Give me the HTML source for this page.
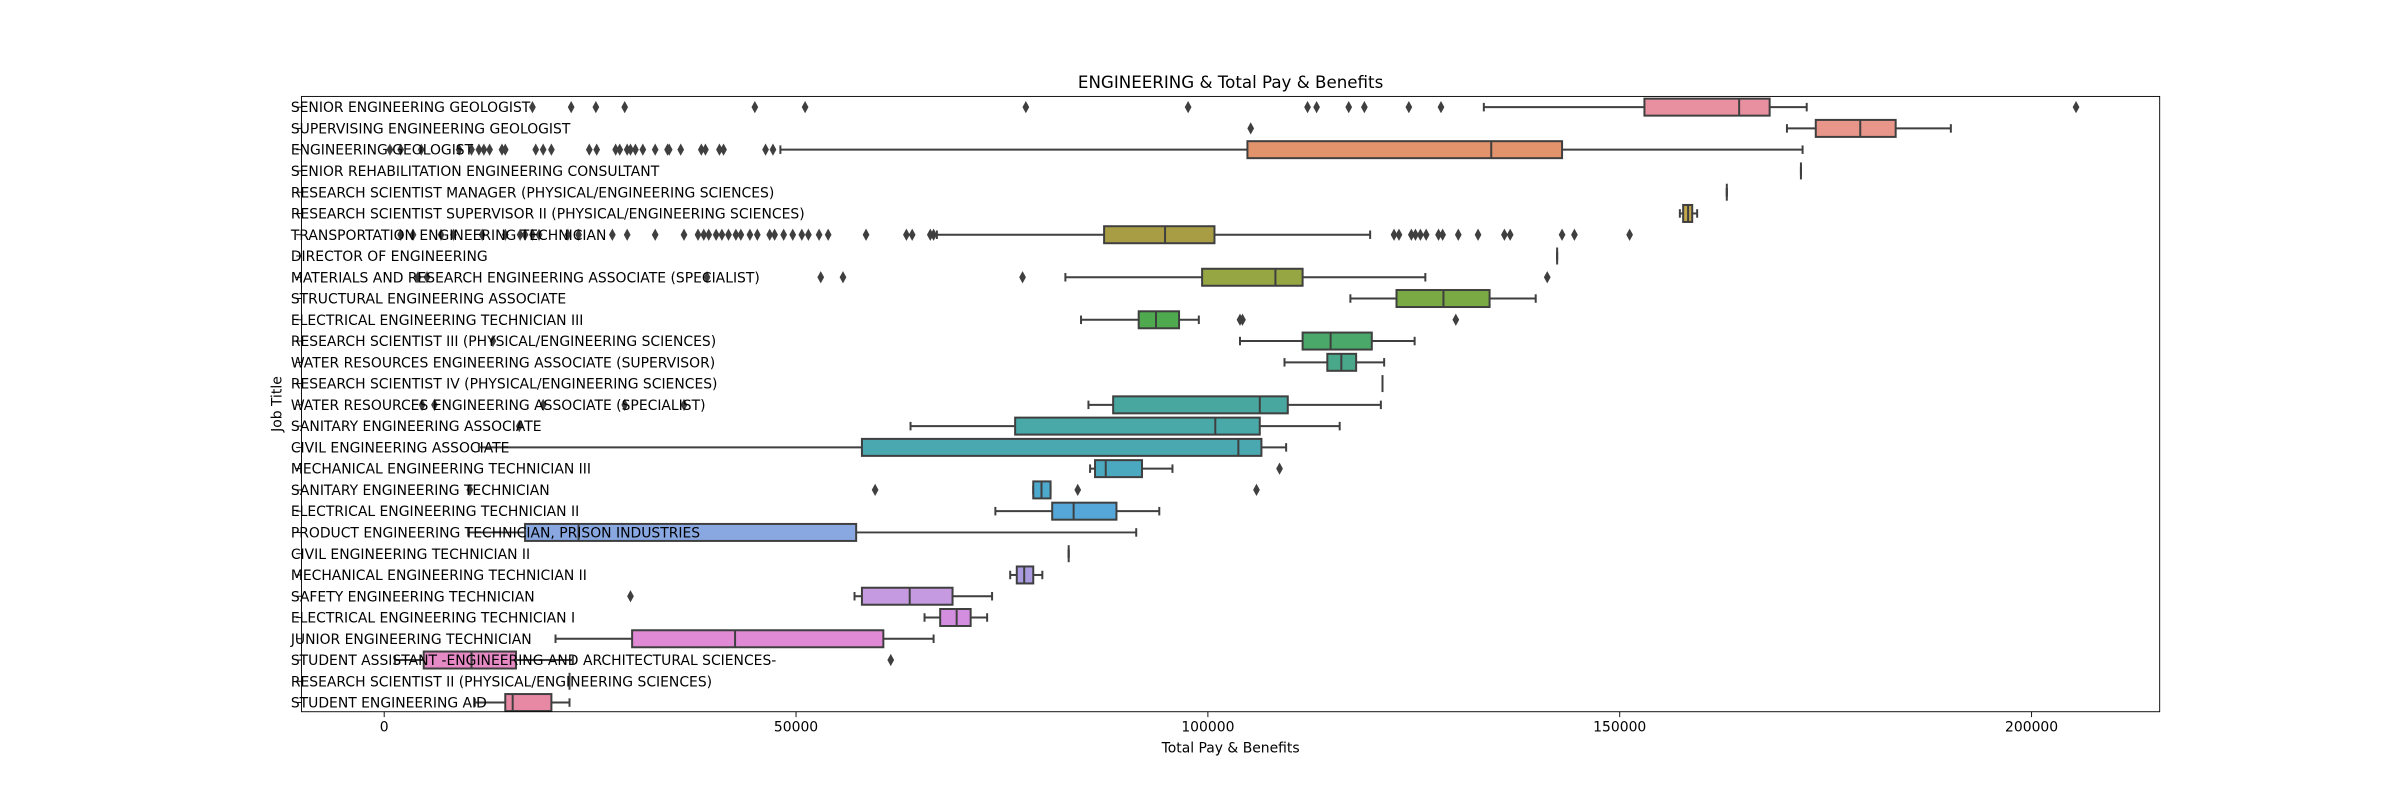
<!DOCTYPE html>
<html><head><meta charset="utf-8"><style>
html,body{margin:0;padding:0;background:#fff;}
svg{display:block;font-family:"DejaVu Sans","Liberation Sans",sans-serif;}
</style></head><body>
<svg id="chart" width="2400" height="800" viewBox="0 0 1568 522.67" xmlns="http://www.w3.org/2000/svg">
<rect x="0" y="0" width="1568" height="522.67" fill="#fff"/>
<text x="804" y="57.5" font-size="10.9" text-anchor="middle" fill="#000">ENGINEERING &amp; Total Pay &amp; Benefits</text>
<g id="plot"></g>
<rect x="197" y="63" width="1214" height="402" fill="none" stroke="#000" stroke-width="0.6"/>
<text x="804" y="491.5" font-size="9.1" text-anchor="middle" fill="#000">Total Pay &amp; Benefits</text>
<text transform="translate(184,264) rotate(-90)" font-size="9.1" text-anchor="middle" fill="#000">Job Title</text>
</svg>
<script>
const categories=["SENIOR ENGINEERING GEOLOGIST","SUPERVISING ENGINEERING GEOLOGIST","ENGINEERING GEOLOGIST","SENIOR REHABILITATION ENGINEERING CONSULTANT","RESEARCH SCIENTIST MANAGER (PHYSICAL/ENGINEERING SCIENCES)","RESEARCH SCIENTIST SUPERVISOR II (PHYSICAL/ENGINEERING SCIENCES)","TRANSPORTATION ENGINEERING TECHNICIAN","DIRECTOR OF ENGINEERING","MATERIALS AND RESEARCH ENGINEERING ASSOCIATE (SPECIALIST)","STRUCTURAL ENGINEERING ASSOCIATE","ELECTRICAL ENGINEERING TECHNICIAN III","RESEARCH SCIENTIST III (PHYSICAL/ENGINEERING SCIENCES)","WATER RESOURCES ENGINEERING ASSOCIATE (SUPERVISOR)","RESEARCH SCIENTIST IV (PHYSICAL/ENGINEERING SCIENCES)","WATER RESOURCES ENGINEERING ASSOCIATE (SPECIALIST)","SANITARY ENGINEERING ASSOCIATE","CIVIL ENGINEERING ASSOCIATE","MECHANICAL ENGINEERING TECHNICIAN III","SANITARY ENGINEERING TECHNICIAN","ELECTRICAL ENGINEERING TECHNICIAN II","PRODUCT ENGINEERING TECHNICIAN, PRISON INDUSTRIES","CIVIL ENGINEERING TECHNICIAN II","MECHANICAL ENGINEERING TECHNICIAN II","SAFETY ENGINEERING TECHNICIAN","ELECTRICAL ENGINEERING TECHNICIAN I","JUNIOR ENGINEERING TECHNICIAN","STUDENT ASSISTANT -ENGINEERING AND ARCHITECTURAL SCIENCES-","RESEARCH SCIENTIST II (PHYSICAL/ENGINEERING SCIENCES)","STUDENT ENGINEERING AID"];
const whiskerLow=[133500,170300,48100,172000,163000,157300,67100,142400,82700,117300,84600,103900,109300,121200,85500,63900,11500,85700,78800,74200,10200,83100,76000,57100,65600,20800,1300,22500,11000];
const q1=[153000,173800,104800,172000,163000,157700,87400,142400,99300,122900,91600,111500,114500,121200,88500,76600,58000,86300,78800,81100,17100,83100,76800,58000,67500,30100,4800,22500,14700];
const medians=[164500,179200,134400,172000,163000,158300,94800,142400,108200,128600,93700,114900,116200,121200,106300,100900,103700,87600,79800,83700,23600,83100,77700,63800,69500,42600,10600,22500,15600];
const q3=[168200,183500,143000,172000,163000,158800,100800,142400,111500,134200,96500,119900,118000,121200,109700,106300,106500,92000,80900,88900,57300,83100,78800,69000,71200,60600,16000,22500,20300];
const whiskerHigh=[172700,190200,172200,172000,163000,159400,119700,142400,126400,139800,98900,125100,121400,121200,121000,116000,109500,95700,80900,94100,91300,83100,79900,73800,73200,66700,22900,22500,22500];
const outliers=[
[18000,22700,25700,29200,45000,51100,77900,97600,112100,113200,117100,119000,124400,128300,205400],
[105200],
[700,2000,4500,9100,10600,11500,12100,12800,14300,14700,18400,19300,20300,24900,25800,28100,28600,29500,29900,30500,31400,32900,34400,34600,36000,38500,39000,40700,41200,46300,47200],
[],[],[],
[2000,3500,6900,8400,11900,14700,16500,17100,18000,18800,22300,23600,27700,29500,32900,36400,38100,38800,39400,40300,41000,41800,42700,43300,44400,45300,46800,47400,48500,49600,50700,51500,52800,53900,58500,63400,64100,66300,66700,122600,123200,124700,125200,125800,126500,128000,128500,130400,132800,136000,136700,143000,144500,151200],
[],
[4100,5200,39200,53000,55700,77500,141200],
[],
[103900,104200,130100],
[13200],
[],[],
[4600,6100,19300,29200,36400],
[16400],
[],
[108700],
[10400,59600,84200,105900],
[],[],[],[],
[29900],
[],[],
[61500],
[],[]
];
const colors=["#e8909f","#e8958a","#e3936c","#d99c5e","#cfa352","#c2a84a","#a89d45","#9ea744","#96a643","#79aa43","#4ea94f","#4aa86a","#48a889","#48a896","#48a8a0","#49a8a8","#4aa8b0","#4ba9bf","#4eaacd","#55a7da","#89a8e2","#a4a0e2","#aa9be1","#c59ae0","#d48ee0","#e08ad6","#e58ac4","#e489b4","#e789a4"];
const xTicks=[0,50000,100000,150000,200000];
const xTickLabels=["0","50000","100000","150000","200000"];

const X0=251, PXPER=0.0053815;
function xScale(v){return X0+v*PXPER;}
const ROW0=70, ROWH=13.893;
function yScale(i){return ROW0+i*ROWH;}
const NS="http://www.w3.org/2000/svg";
const g=document.getElementById('plot');
function mk(tag,attrs,parent){const e=document.createElementNS(NS,tag);for(const k in attrs)e.setAttribute(k,attrs[k]);(parent||g).appendChild(e);return e;}
const LC="#3f3f3f", LW=1.3, BH=11.1;

xTicks.forEach((t,i)=>{
  const x=xScale(t);
  const tk=mk('line',{x1:x,x2:x,y1:465,y2:468.5,stroke:'#000','stroke-width':0.6});
  
  
  const tl=mk('text',{x:x,y:478,'font-size':9.1,'text-anchor':'middle',fill:'#000'});
  tl.textContent=xTickLabels[i];
  
  
});

categories.forEach((c,i)=>{
  const y=yScale(i);
  const grp=mk('g',{});
  
  
  const lo=xScale(whiskerLow[i]),a=xScale(q1[i]),m=xScale(medians[i]),b=xScale(q3[i]),hi=xScale(whiskerHigh[i]);
  const w1=mk('line',{x1:lo,x2:a,y1:y,y2:y,stroke:LC,'stroke-width':LW},grp);
  
  
  const w2=mk('line',{x1:b,x2:hi,y1:y,y2:y,stroke:LC,'stroke-width':LW},grp);
  
  
  const cap1=mk('line',{x1:lo,x2:lo,y1:y-BH/4,y2:y+BH/4,stroke:LC,'stroke-width':LW},grp);
  
  
  const cap2=mk('line',{x1:hi,x2:hi,y1:y-BH/4,y2:y+BH/4,stroke:LC,'stroke-width':LW},grp);
  
  
  const r=mk('rect',{x:a,y:y-BH/2,width:Math.max(b-a,0),height:BH,fill:colors[i],stroke:LC,'stroke-width':LW},grp);
  
  
  const md=mk('line',{x1:m,x2:m,y1:y-BH/2,y2:y+BH/2,stroke:LC,'stroke-width':LW},grp);
  
  
  outliers[i].forEach(v=>{
    const ox=xScale(v);
    const d=mk('path',{d:`M${ox} ${y-4}L${ox+2.2} ${y}L${ox} ${y+4}L${ox-2.2} ${y}Z`,fill:LC},grp);
    
    
  });
});
categories.forEach((c,i)=>{
  const y=yScale(i);
  const tk=mk('line',{x1:193.5,x2:197,y1:y,y2:y,stroke:'#000','stroke-width':0.6});
  
  
  const t=mk('text',{x:190,y:y+3.3,'font-size':9.1,fill:'#000'});
  t.textContent=c;
  
  
});
</script>
</body></html>
